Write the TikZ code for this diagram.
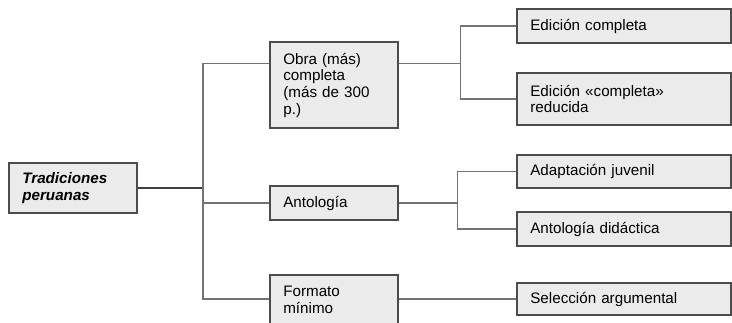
\documentclass[tikz,border=0pt]{standalone}
\usepackage{fontspec}
\setmainfont{Liberation Sans}
\usepackage{xcolor}

\tikzset{
  box/.style={rectangle,
      fill=black!8,
      draw=black!70,
      line width=1.4pt,
      inner xsep=10pt,
      inner ysep=2pt,
      align=left,
      font=\fontsize{11.4}{12.5}\selectfont},
  leftbox/.style={box, minimum width=96pt, text width=76pt},
  rightbox/.style={box, minimum width=160.5pt, text width=140.5pt},
  link/.style={draw=black!55, line width=0.8pt},
}

\begin{document}
\begin{tikzpicture}[x=0.75pt, y=-0.75pt]
\useasboundingbox (0,0) rectangle (732,323);

\node[leftbox, minimum height=37.5pt] (trad) at (73,188)
{\textbf{\textit{Tradiciones\\ peruanas}}};

\node[leftbox, minimum height=64.5pt] (obra) at (334,85)
{Obra (más)\\ completa\\ (más de 300\\ p.)};
\node[leftbox, minimum height=25.5pt] (anto) at (334,203) {Antología};
\node[leftbox, minimum height=37.5pt] (formato) at (334,300)
{Formato\\ mínimo};

\node[rightbox, minimum height=25.5pt] (edcomp) at (624,26) {Edición completa};
\node[rightbox, minimum height=39pt] (edred) at (624,99)
{Edición «completa»\\ reducida};
\node[rightbox, minimum height=25pt] (adapt) at (624,171.5) {Adaptación juvenil};
\node[rightbox, minimum height=25.5pt] (didac) at (624,229) {Antología didáctica};
\node[rightbox, minimum height=24pt] (selec) at (624,299) {Selección argumental};

\coordinate (t1) at (203,188);
\coordinate (obraw) at ([yshift=-17pt]obra.north west);
\coordinate (obrae) at ([yshift=-17pt]obra.north east);

\draw[draw=black!75, line width=1pt] (trad.east) -- (t1);
\draw[link] (t1) |- (obraw);
\draw[link] (t1) |- (anto.west);
\draw[link] (t1) |- (formato.west |- selec.west);

\draw[link] (obrae) -- ++(62,0) coordinate (t2);
\draw[link] (t2) |- (edcomp.west);
\draw[link] (t2) |- (edred.west);

\draw[link] (anto.east) -- ++(59,0) coordinate (t3);
\draw[link] (t3) |- (adapt.west);
\draw[link] (t3) |- (didac.west);

\draw[link] (formato.east |- selec.west) -- (selec.west);
\end{tikzpicture}
\end{document}
